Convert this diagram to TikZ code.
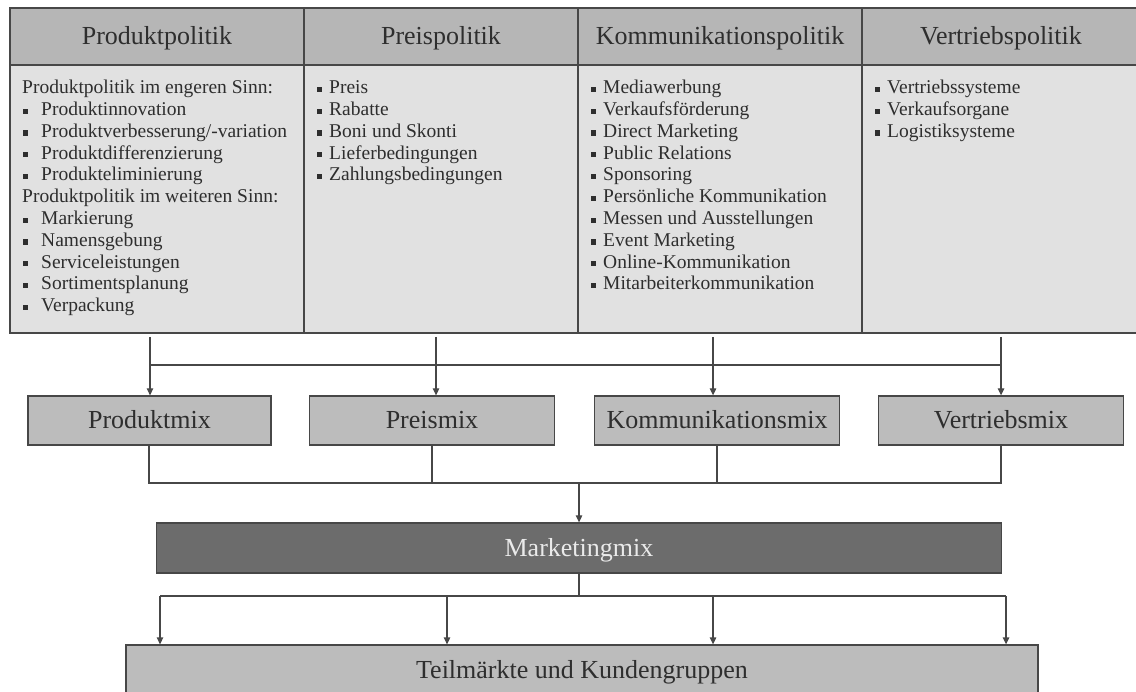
\documentclass[tikz,border=0pt]{standalone}
\usepackage{fontspec}
\setmainfont{Liberation Serif}
\usetikzlibrary{arrows.meta}

\definecolor{rim}{HTML}{474747}
\definecolor{ink}{HTML}{2E2E2E}
\definecolor{headfill}{HTML}{B6B6B6}
\definecolor{bodyfill}{HTML}{E1E1E1}
\definecolor{mixfill}{HTML}{BCBCBC}
\definecolor{darkfill}{HTML}{6C6C6C}
\definecolor{lighttext}{HTML}{EAEAEA}

% small square bullet
\newcommand{\sqbul}{\raisebox{0.09em}{\rule{0.27em}{0.27em}}}
\newcommand{\bitem}[1]{\makebox[12pt][l]{\sqbul}#1}
\newcommand{\pitem}[1]{\makebox[19pt][l]{\hspace{1pt}\sqbul}#1}

\begin{document}
\begin{tikzpicture}[x=1pt,y=-1pt,
  every node/.style={inner sep=0pt, text=ink},
  cell/.style={draw=rim, line width=1.3pt, rectangle},
  bigtext/.style={font=\fontsize{26}{29}\selectfont, text height=19.5pt, text depth=2.5pt},
  headcell/.style={cell, fill=headfill, bigtext},
  bodycell/.style={cell, fill=bodyfill},
  listtext/.style={anchor=north west, align=left, font=\fontsize{19.5}{21.8}\selectfont},
  mixbox/.style={cell, fill=mixfill, minimum height=49pt, bigtext},
  link/.style={draw=rim, line width=1.3pt},
  arr/.style={link, -{Triangle[length=7pt,width=6.5pt]}}
]
\clip (0,0) rectangle (1136,692);
\useasboundingbox (0,0) rectangle (1136,692);

% header row
\node[headcell, minimum width=294pt, minimum height=57pt] (h1) at (157,36.5) {Produktpolitik};
\node[headcell, minimum width=274pt, minimum height=57pt] (h2) at (441,36.5) {Preispolitik};
\node[headcell, minimum width=284pt, minimum height=57pt] (h3) at (720,36.5) {Kommunikationspolitik};
\node[headcell, minimum width=278pt, minimum height=57pt] (h4) at (1001,36.5) {Vertriebspolitik};

% body row
\node[bodycell, minimum width=294pt, minimum height=268pt] (b1) at (157,199) {};
\node[bodycell, minimum width=274pt, minimum height=268pt] (b2) at (441,199) {};
\node[bodycell, minimum width=284pt, minimum height=268pt] (b3) at (720,199) {};
\node[bodycell, minimum width=278pt, minimum height=268pt] (b4) at (1001,199) {};

% lists
\node[listtext] (t1) at (22,80) {\vphantom{d}Produktpolitik im engeren Sinn:\\
\pitem{Produktinnovation}\\
\pitem{Produktverbesserung/-variation}\\
\pitem{Produktdifferenzierung}\\
\pitem{Produkteliminierung}\\
Produktpolitik im weiteren Sinn:\\
\pitem{Markierung}\\
\pitem{Namensgebung}\\
\pitem{Serviceleistungen}\\
\pitem{Sortimentsplanung}\\
\pitem{Verpackung}};
\node[listtext] (t2) at (317,80) {\vphantom{d}\bitem{Preis}\\
\bitem{Rabatte}\\
\bitem{Boni und Skonti}\\
\bitem{Lieferbedingungen}\\
\bitem{Zahlungsbedingungen}};
\node[listtext] (t3) at (591,80) {\vphantom{d}\bitem{Mediawerbung}\\
\bitem{Verkaufsförderung}\\
\bitem{Direct Marketing}\\
\bitem{Public Relations}\\
\bitem{Sponsoring}\\
\bitem{Persönliche Kommunikation}\\
\bitem{Messen und Ausstellungen}\\
\bitem{Event Marketing}\\
\bitem{Online-Kommunikation}\\
\bitem{Mitarbeiterkommunikation}};
\node[listtext] (t4) at (875,80) {\vphantom{d}\bitem{Vertriebssysteme}\\
\bitem{Verkaufsorgane}\\
\bitem{Logistiksysteme}};

% mix boxes
\node[mixbox, minimum width=243pt] (m1) at (149.5,420.5) {Produktmix};
\node[mixbox, minimum width=245pt] (m2) at (432,420.5) {Preismix};
\node[mixbox, minimum width=245pt] (m3) at (717,420.5) {Kommunikationsmix};
\node[mixbox, minimum width=245pt] (m4) at (1001,420.5) {Vertriebsmix};

% marketing mix and target groups
\node[cell, fill=darkfill, text=lighttext, minimum width=845pt, minimum height=50pt,
      bigtext] (mm) at (579,548) {Marketingmix};
\node[cell, fill=mixfill, minimum width=912pt, minimum height=49pt,
      bigtext] (tk) at (582,669.5) {Teilmärkte und Kundengruppen};

% policies -> mixes
\coordinate (ta1) at (150,337);
\coordinate (ta2) at (436,337);
\coordinate (ta3) at (713,337);
\coordinate (ta4) at (1001,337);
\draw[link] (150,365) coordinate (jl) -- (1001,365) coordinate (jr);
\draw[arr] (ta1) -- (ta1 |- m1.north);
\draw[arr] (ta2) -- (ta2 |- m2.north);
\draw[arr] (ta3) -- (ta3 |- m3.north);
\draw[arr] (ta4) -- (ta4 |- m4.north);

% mixes -> marketing mix
\coordinate (ja) at (149,483);
\draw[link] (m1.south -| ja) -- (ja) -- (ja -| m4.south) -- (m4.south);
\draw[link] (m2.south) -- (m2.south |- ja);
\draw[link] (m3.south) -- (m3.south |- ja);
\draw[arr] (mm.north |- ja) -- (mm.north);

% marketing mix -> target groups
\coordinate (d1) at (160,596);
\coordinate (d2) at (447,596);
\coordinate (d3) at (713,596);
\coordinate (d4) at (1006,596);
\draw[link] (mm.south) -- (mm.south |- d1);
\draw[link] (d1) -- (d4);
\draw[arr] (d1) -- (d1 |- tk.north);
\draw[arr] (d2) -- (d2 |- tk.north);
\draw[arr] (d3) -- (d3 |- tk.north);
\draw[arr] (d4) -- (d4 |- tk.north);
\end{tikzpicture}
\end{document}
